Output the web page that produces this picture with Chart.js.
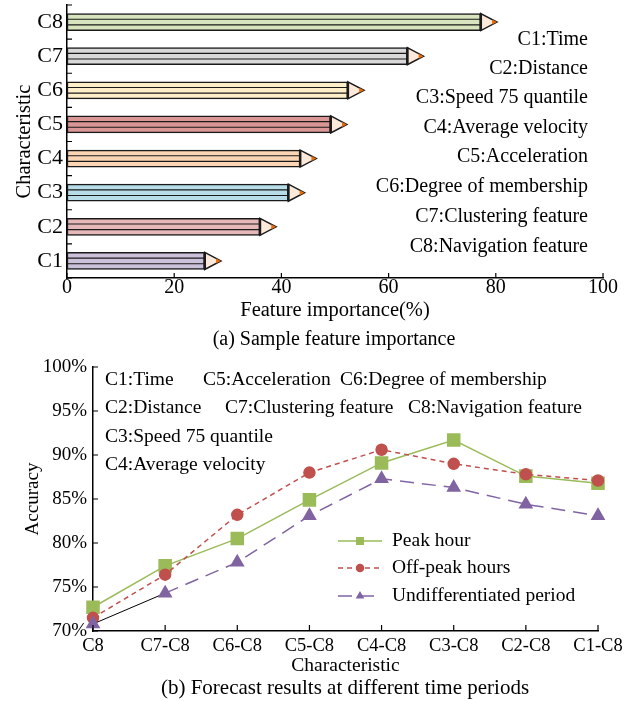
<!DOCTYPE html>
<html>
<head>
<meta charset="utf-8">
<script src="https://cdn.jsdelivr.net/npm/chart.js@4.4.1/dist/chart.umd.min.js"></script>
<style>
  body { margin: 0; background: #fff; width: 633px; height: 701px; position: relative; overflow: hidden; font-family: "Liberation Serif", "Times New Roman", serif; }
  #box1 { position: absolute; left: 0; top: 0; }
  #box2 { position: absolute; left: 0; top: 345px; }
  .caption { position: absolute; transform: translateX(-50%); white-space: nowrap; color: #000; }
</style>
</head>
<body>
<canvas id="box1" width="633" height="325"></canvas>
<canvas id="box2" width="633" height="333"></canvas>
<div class="caption" style="left:334px; top:327px; font-size:20px; line-height:22px;">(a) Sample feature importance</div>
<div class="caption" style="left:345px; top:675px; font-size:21px; line-height:24px;">(b) Forecast results at different time periods</div>

<script>
// dados
var featureLabels = ['C1', 'C2', 'C3', 'C4', 'C5', 'C6', 'C7', 'C8'];
var featureImportance = [25.7, 36.0, 41.3, 43.5, 49.2, 52.4, 63.5, 77.2];
var featureColors = ['#ccc1da', '#e6b9b8', '#b7dee8', '#fcd5b5', '#da9694', '#ffefc8', '#d9d9d9', '#d7e4bd'];
var featureNotes = ['C1:Time', 'C2:Distance', 'C3:Speed 75 quantile', 'C4:Average velocity',
  'C5:Acceleration', 'C6:Degree of membership', 'C7:Clustering feature', 'C8:Navigation feature'];

var combos = ['C8', 'C7-C8', 'C6-C8', 'C5-C8', 'C4-C8', 'C3-C8', 'C2-C8', 'C1-C8'];
var peakHour = [72.7, 77.4, 80.5, 84.9, 89.1, 91.7, 87.6, 86.8];
var offPeak = [71.5, 76.4, 83.2, 88.0, 90.6, 89.0, 87.8, 87.1];
var undifferentiated = [70.8, 74.3, 77.8, 83.1, 87.3, 86.3, 84.4, 83.1];
var seriesNames = ['Peak hour', 'Off-peak hours', 'Undifferentiated period'];

var serif = '"Liberation Serif", "Times New Roman", serif';
Chart.defaults.font.family = serif;
Chart.defaults.font.size = 19;
Chart.defaults.color = '#000';

// ---------- (a) grafico de lapis ----------
var pencilPlugin = {
  id: 'pencil',
  afterDatasetsDraw: function (chart) {
    var ctx = chart.ctx;
    chart.getDatasetMeta(0).data.forEach(function (bar) {
      var p = bar.getProps(['x', 'y', 'base', 'height'], true);
      var top = p.y - p.height / 2, bot = p.y + p.height / 2;
      ctx.save();
      ctx.strokeStyle = '#1a1a1a';
      ctx.lineWidth = 1.2;
      ctx.beginPath();
      ctx.moveTo(p.base, p.y - p.height / 6); ctx.lineTo(p.x, p.y - p.height / 6);
      ctx.moveTo(p.base, p.y + p.height / 6); ctx.lineTo(p.x, p.y + p.height / 6);
      ctx.stroke();
      var tip = p.height * 0.95;
      ctx.beginPath();
      ctx.moveTo(p.x, top); ctx.lineTo(p.x + tip, p.y); ctx.lineTo(p.x, bot); ctx.closePath();
      ctx.fillStyle = '#fde9d9'; ctx.fill();
      ctx.lineWidth = 1.5; ctx.stroke();
      ctx.beginPath();
      ctx.moveTo(p.x + tip * 0.7, p.y - p.height * 0.15);
      ctx.lineTo(p.x + tip, p.y);
      ctx.lineTo(p.x + tip * 0.7, p.y + p.height * 0.15);
      ctx.closePath();
      ctx.fillStyle = '#e46c0a'; ctx.fill();
      ctx.lineWidth = 2.5;
      ctx.beginPath(); ctx.moveTo(p.x, top); ctx.lineTo(p.x, bot); ctx.stroke();
      ctx.restore();
    });
  },
  afterDraw: function (chart) {
    var ctx = chart.ctx, x = chart.scales.x, a = chart.chartArea;
    ctx.save();
    ctx.strokeStyle = '#000'; ctx.lineWidth = 1.2;
    ctx.beginPath();
    x.ticks.forEach(function (t) {
      var px = x.getPixelForValue(t.value);
      ctx.moveTo(px, a.bottom); ctx.lineTo(px, a.bottom - 5);
    });
    for (var i = 0; i <= featureLabels.length; i++) {
      var py = a.bottom - i * (a.bottom - a.top) / featureLabels.length;
      ctx.moveTo(a.left, py); ctx.lineTo(a.left + 5, py);
    }
    ctx.stroke();
    ctx.fillStyle = '#000';
    ctx.font = '20px ' + serif;
    ctx.textAlign = 'right';
    ctx.textBaseline = 'middle';
    var rows = [40, 69, 98, 128, 157, 187, 217, 247];
    featureNotes.forEach(function (txt, i) { ctx.fillText(txt, 588, rows[i]); });
    ctx.restore();
  }
};

new Chart(document.getElementById('box1').getContext('2d'), {
  type: 'bar',
  data: {
    labels: featureLabels,
    datasets: [{
      data: featureImportance,
      backgroundColor: featureColors,
      borderColor: '#1a1a1a',
      borderWidth: 1.5,
      borderSkipped: false,
      barThickness: 17
    }]
  },
  options: {
    indexAxis: 'y',
    responsive: false,
    animation: false,
    devicePixelRatio: 1,
    layout: { padding: { top: 5, right: 30, left: 0, bottom: 0 } },
    plugins: { legend: { display: false }, tooltip: { enabled: false } },
    scales: {
      x: {
        min: 0, max: 100,
        ticks: { stepSize: 20, padding: -2, font: { size: 20 } },
        grid: { display: false, drawTicks: false },
        border: { color: '#000', width: 1.5 },
        title: { display: true, text: 'Feature importance(%)', font: { size: 20.5 }, padding: { top: 0, bottom: 2 } },
        afterFit: function (s) { s.height = 47; s.paddingLeft = 0; s.paddingRight = 0; }
      },
      y: {
        reverse: true,
        ticks: { padding: 4, font: { size: 22 } },
        grid: { display: false, drawTicks: false },
        border: { color: '#000', width: 1.5 },
        title: { display: true, text: 'Characteristic', font: { size: 20.5 }, padding: { top: 12, bottom: 0 } },
        afterFit: function (s) { s.width = 67; s.paddingTop = 0; s.paddingBottom = 0; }
      }
    }
  },
  plugins: [pencilPlugin]
});

// ---------- (b) grafico de linhas ----------
var lineExtras = {
  id: 'lineExtras',
  afterDraw: function (chart) {
    var ctx = chart.ctx, x = chart.scales.x, y = chart.scales.y, a = chart.chartArea;
    ctx.save();
    ctx.strokeStyle = '#000'; ctx.lineWidth = 1.2;
    ctx.beginPath();
    combos.forEach(function (c, i) {
      var px = x.getPixelForValue(i);
      ctx.moveTo(px, a.bottom); ctx.lineTo(px, a.bottom - 6);
    });
    y.ticks.forEach(function (t) {
      var py = y.getPixelForValue(t.value);
      ctx.moveTo(a.left, py); ctx.lineTo(a.left + 5, py);
    });
    ctx.stroke();

    ctx.fillStyle = '#000';
    ctx.font = '19.5px ' + serif;
    ctx.textAlign = 'left';
    ctx.textBaseline = 'middle';
    var off = -345;
    ctx.fillText('C1:Time', 105, 380 + off);
    ctx.fillText('C5:Acceleration', 203, 380 + off);
    ctx.fillText('C6:Degree of membership', 340, 380 + off);
    ctx.fillText('C2:Distance', 105, 408 + off);
    ctx.fillText('C7:Clustering feature', 225, 408 + off);
    ctx.fillText('C8:Navigation feature', 408, 408 + off);
    ctx.fillText('C3:Speed 75 quantile', 105, 437 + off);
    ctx.fillText('C4:Average velocity', 105, 465 + off);

    // legenda
    var rows = [541 + off, 568 + off, 596 + off];
    chart.data.datasets.forEach(function (ds, i) {
      var ry = rows[i];
      ctx.save();
      ctx.strokeStyle = ds.borderColor;
      ctx.lineWidth = 1.5;
      ctx.setLineDash(ds.borderDash || []);
      ctx.beginPath(); ctx.moveTo(338, ry); ctx.lineTo(382, ry); ctx.stroke();
      ctx.setLineDash([]);
      Chart.helpers.drawPoint(ctx, { pointStyle: ds.pointStyle, radius: i === 0 ? 4.5 : 3.5, borderWidth: 1 }, 360, ry);
      ctx.fillStyle = ds.borderColor;
      ctx.fill();
      ctx.restore();
      ctx.fillText(ds.label, 392, ry);
    });
    ctx.restore();
  }
};

new Chart(document.getElementById('box2').getContext('2d'), {
  type: 'line',
  data: {
    labels: combos,
    datasets: [{
      label: seriesNames[0],
      data: peakHour,
      borderColor: '#9bbb59',
      backgroundColor: '#9bbb59',
      borderWidth: 1.5,
      pointStyle: 'rect',
      pointRadius: 8.5,
      clip: false,
      order: 3
    }, {
      label: seriesNames[1],
      data: offPeak,
      borderColor: '#c0504d',
      backgroundColor: '#c0504d',
      borderWidth: 1.5,
      borderDash: [5, 4],
      pointStyle: 'circle',
      pointRadius: 5.5,
      clip: false,
      order: 2
    }, {
      label: seriesNames[2],
      data: undifferentiated,
      borderColor: '#8064a2',
      backgroundColor: '#8064a2',
      borderWidth: 1.5,
      borderDash: [14, 8],
      pointStyle: 'triangle',
      pointRadius: 7,
      clip: false,
      order: 1,
      segment: {
        borderColor: function (c) { return c.p0DataIndex === 0 ? '#000' : undefined; },
        borderDash: function (c) { return c.p0DataIndex === 0 ? [] : undefined; },
        borderWidth: function (c) { return c.p0DataIndex === 0 ? 1 : undefined; }
      }
    }]
  },
  options: {
    responsive: false,
    animation: false,
    devicePixelRatio: 1,
    layout: { padding: { top: 22, right: 35, left: 0, bottom: 0 } },
    plugins: { legend: { display: false }, tooltip: { enabled: false } },
    scales: {
      x: {
        offset: false,
        ticks: { padding: 4, maxRotation: 0, autoSkip: false, font: { size: 18.5 } },
        grid: { display: false, drawTicks: false },
        border: { color: '#000', width: 1.5 },
        title: { display: true, text: 'Characteristic', font: { size: 19.5 }, padding: { top: 0, bottom: 0 } },
        afterFit: function (s) { s.height = 47; }
      },
      y: {
        min: 70, max: 100,
        ticks: { stepSize: 5, padding: 6, callback: function (v) { return v + '%'; } },
        grid: { display: false, drawTicks: false },
        border: { color: '#000', width: 1.5 },
        title: { display: true, text: 'Accuracy', padding: { top: 22, bottom: 0 } },
        afterFit: function (s) { s.width = 93; }
      }
    }
  },
  plugins: [lineExtras]
});
</script>
</body>
</html>
